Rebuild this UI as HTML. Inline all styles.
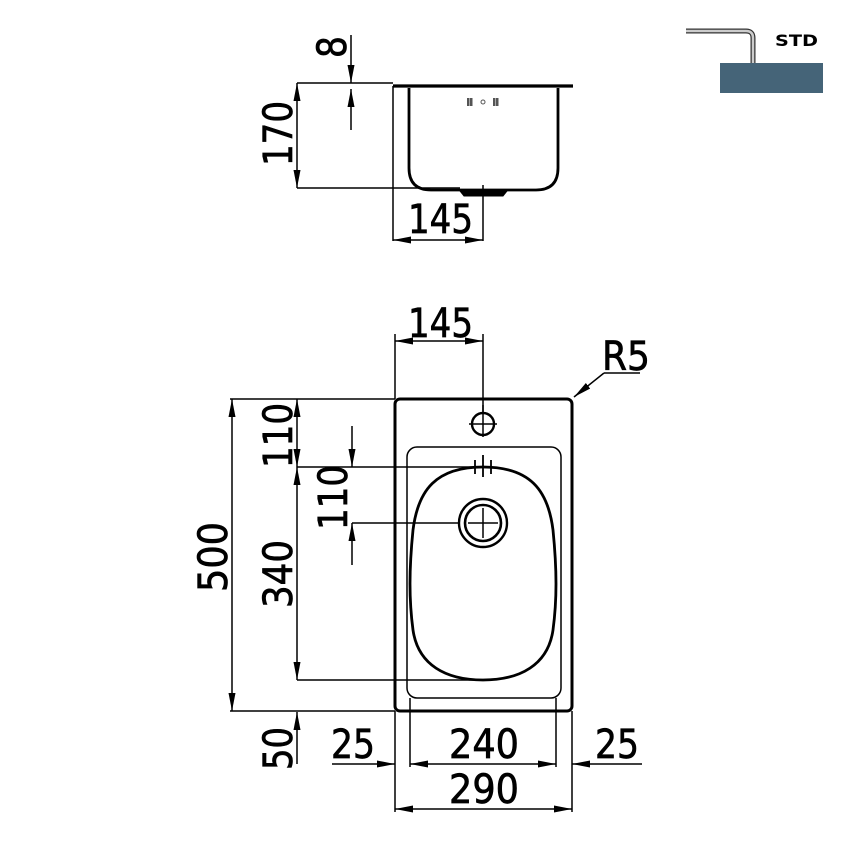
<!DOCTYPE html>
<html><head><style>html,body{margin:0;padding:0;background:#fff}svg{display:block}</style></head><body>
<svg width="850" height="850" viewBox="0 0 850 850" xmlns="http://www.w3.org/2000/svg">
<defs>
<marker id="a" viewBox="0 0 18 7" refX="18" refY="3.5" markerWidth="18" markerHeight="7" orient="auto-start-reverse" markerUnits="userSpaceOnUse"><path d="M0,0 L18,3.5 L0,7 z" fill="#000"/></marker>
</defs>
<g font-family="'DejaVu Sans','Liberation Sans',sans-serif" font-size="40" fill="#000" stroke="#000" stroke-width="0.7">
<text x="408" y="233" textLength="65" lengthAdjust="spacingAndGlyphs">145</text>
<text transform="translate(292,166) rotate(-90)" textLength="65" lengthAdjust="spacingAndGlyphs">170</text>
<text transform="translate(346,58) rotate(-90)" textLength="22" lengthAdjust="spacingAndGlyphs">8</text>
<text x="408" y="337" textLength="65" lengthAdjust="spacingAndGlyphs">145</text>
<text x="602" y="370" textLength="48" lengthAdjust="spacingAndGlyphs">R5</text>
<text transform="translate(227,592) rotate(-90)" textLength="70" lengthAdjust="spacingAndGlyphs">500</text>
<text transform="translate(292,468) rotate(-90)" textLength="65" lengthAdjust="spacingAndGlyphs">110</text>
<text transform="translate(292,608) rotate(-90)" textLength="68" lengthAdjust="spacingAndGlyphs">340</text>
<text transform="translate(292,770) rotate(-90)" textLength="43" lengthAdjust="spacingAndGlyphs">50</text>
<text transform="translate(347,530) rotate(-90)" textLength="65" lengthAdjust="spacingAndGlyphs">110</text>
<text x="331" y="758" textLength="44" lengthAdjust="spacingAndGlyphs">25</text>
<text x="449" y="758" textLength="70" lengthAdjust="spacingAndGlyphs">240</text>
<text x="595" y="758" textLength="44" lengthAdjust="spacingAndGlyphs">25</text>
<text x="449" y="803" textLength="70" lengthAdjust="spacingAndGlyphs">290</text>
</g>
<!-- top view -->
<g stroke="#000" fill="none" stroke-width="1.5">
<line x1="393" y1="86" x2="573" y2="86" stroke-width="3.2"/>
<path d="M409,88 V168 Q409,190 431,190 H536 Q558,190 558,168 V88" stroke-width="2.8"/>
<path d="M460,191 H507 L503,196 H464 Z" fill="#000" stroke-width="1"/>
<line x1="297" y1="83" x2="393" y2="83"/>
<line x1="297" y1="188" x2="460" y2="188"/>
<line x1="297" y1="83" x2="297" y2="188" marker-start="url(#a)" marker-end="url(#a)"/>
<line x1="351" y1="35" x2="351" y2="83" marker-end="url(#a)"/>
<line x1="351" y1="130" x2="351" y2="89" marker-end="url(#a)"/>
<line x1="393" y1="86" x2="393" y2="241"/>
<line x1="483" y1="185" x2="483" y2="241"/>
<line x1="393" y1="240" x2="483" y2="240" marker-start="url(#a)" marker-end="url(#a)"/>
</g>
<g fill="#555"><rect x="467" y="98" width="2.5" height="8"/><rect x="470" y="98" width="2.5" height="8"/><circle cx="483" cy="102" r="2" fill="none" stroke="#555"/><rect x="493" y="98" width="2.5" height="8"/><rect x="496" y="98" width="2.5" height="8"/></g>

<!-- plan view -->
<g stroke="#000" fill="none" stroke-width="1.5">
<rect x="395" y="399" width="177" height="312" rx="5" stroke-width="3"/>
<rect x="407" y="447" width="154" height="251" rx="10" stroke-width="1.5"/>
<path d="M483,467 C530,467 548,490 553,530 C557,570 557,600 553,630 C548,665 520,680 483,680 C446,680 418,665 413,630 C409,600 409,570 413,530 C418,490 436,467 483,467 Z" stroke-width="2.8"/>
<circle cx="483" cy="424" r="11" stroke-width="2.4"/>
<line x1="469" y1="424" x2="497" y2="424"/>
<line x1="483" y1="405" x2="483" y2="437"/>
<circle cx="483" cy="523" r="24" stroke-width="2.4"/>
<circle cx="483" cy="523" r="18" stroke-width="2.6"/>
<line x1="468" y1="523" x2="498" y2="523"/>
<line x1="483" y1="508" x2="483" y2="538"/>
<line x1="483" y1="455" x2="483" y2="477" stroke-width="1.8"/>
<line x1="475" y1="460" x2="475" y2="474" stroke-width="1.8"/>
<line x1="491" y1="460" x2="491" y2="474" stroke-width="1.8"/>
<line x1="395" y1="334" x2="395" y2="399"/>
<line x1="483" y1="334" x2="483" y2="412"/>
<line x1="395" y1="341" x2="483" y2="341" marker-start="url(#a)" marker-end="url(#a)"/>
<line x1="604" y1="373" x2="574" y2="397" marker-end="url(#a)"/>
<line x1="604" y1="373" x2="640" y2="373"/>
<line x1="230" y1="399" x2="395" y2="399"/>
<line x1="230" y1="711" x2="395" y2="711"/>
<line x1="232" y1="399" x2="232" y2="711" marker-start="url(#a)" marker-end="url(#a)"/>
<line x1="297" y1="399" x2="297" y2="467" marker-start="url(#a)" marker-end="url(#a)"/>
<line x1="297" y1="467" x2="297" y2="680" marker-start="url(#a)" marker-end="url(#a)"/>
<line x1="297" y1="764" x2="297" y2="712" marker-end="url(#a)"/>
<line x1="297" y1="467" x2="476" y2="467"/>
<line x1="297" y1="680" x2="483" y2="680"/>
<line x1="352" y1="426" x2="352" y2="467" marker-end="url(#a)"/>
<line x1="352" y1="565" x2="352" y2="523" marker-end="url(#a)"/>
<line x1="352" y1="523" x2="459" y2="523"/>
<line x1="395" y1="711" x2="395" y2="812"/>
<line x1="572" y1="711" x2="572" y2="812"/>
<line x1="410" y1="698" x2="410" y2="767"/>
<line x1="556" y1="698" x2="556" y2="767"/>
<line x1="332" y1="764" x2="395" y2="764" marker-end="url(#a)"/>
<line x1="410" y1="764" x2="556" y2="764" marker-start="url(#a)" marker-end="url(#a)"/>
<line x1="642" y1="764" x2="572" y2="764" marker-end="url(#a)"/>
<line x1="395" y1="809" x2="572" y2="809" marker-start="url(#a)" marker-end="url(#a)"/>
</g>
<!-- STD icon -->
<path d="M686,31 H746 Q753,31 753,38 V63" fill="none" stroke="#333" stroke-width="5"/>
<path d="M686,31 H746 Q753,31 753,38 V63" fill="none" stroke="#ccc" stroke-width="2.5"/>
<rect x="720" y="63" width="103" height="30" fill="#456478"/>
<text x="775" y="46" font-family="'DejaVu Sans','Liberation Sans',sans-serif" font-weight="bold" font-size="16" textLength="43" lengthAdjust="spacingAndGlyphs">STD</text>
</svg>
</body></html>
